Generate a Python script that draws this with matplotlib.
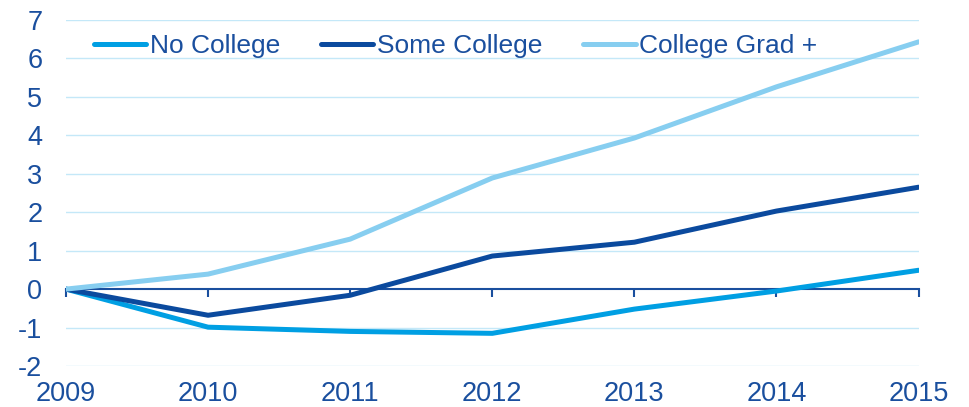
import matplotlib.pyplot as plt

# Cumulative change since 2009, by education level
years = [2009, 2010, 2011, 2012, 2013, 2014, 2015]
no_college = [0, -0.99, -1.10, -1.15, -0.52, -0.05, 0.49]
some_college = [0, -0.68, -0.16, 0.86, 1.22, 2.03, 2.65]
college_grad = [0, 0.39, 1.30, 2.89, 3.93, 5.26, 6.43]
y_ticks = [-2, -1, 0, 1, 2, 3, 4, 5, 6, 7]

TEXT_BLUE = '#1a4f9e'
GRID_BLUE = '#c4e8f8'

plt.rcParams['font.family'] = ['Liberation Sans', 'DejaVu Sans']
plt.rcParams['font.size'] = 19.5

fig = plt.figure(figsize=(9.7, 4.07), dpi=100)
ax = fig.add_axes([0.068, 0.1007, 0.879, 0.8503])

ax.plot(years, no_college, color='#009fe3', lw=3.6, label='No College', solid_capstyle='round')
ax.plot(years, some_college, color='#0b4a9e', lw=3.6, label='Some College', solid_capstyle='round')
ax.plot(years, college_grad, color='#87cef0', lw=3.6, label='College Grad +', solid_capstyle='round')

ax.set_xlim(years[0], years[-1])
ax.set_ylim(y_ticks[0], y_ticks[-1])
ax.set_yticks(y_ticks)
ax.set_yticklabels([str(v) for v in y_ticks])

# horizontal grid, the zero line is drawn as the axis itself
for v in y_ticks:
    if v != 0:
        ax.axhline(v, color=GRID_BLUE, lw=1.0, zorder=0)

for side in ['top', 'right', 'left']:
    ax.spines[side].set_visible(False)
ax.spines['bottom'].set_position(('data', 0))
ax.spines['bottom'].set_color(TEXT_BLUE)
ax.spines['bottom'].set_linewidth(1.5)
ax.spines['bottom'].set_zorder(1)

ax.set_xticks(years)
ax.tick_params(axis='x', direction='out', length=6, width=1.5, color=TEXT_BLUE,
               labelbottom=False)
ax.tick_params(axis='y', length=0, pad=17, labelcolor=TEXT_BLUE)

# year labels sit below the plot area
sec = ax.secondary_xaxis('bottom')
sec.set_xticks(years)
sec.set_xticklabels([str(y) for y in years])
sec.tick_params(length=0, pad=11, labelcolor=TEXT_BLUE)
sec.spines['bottom'].set_visible(False)

leg = ax.legend(loc='upper left', ncol=3, frameon=False, fontsize=19,
                handlelength=2.0, handletextpad=0.12, columnspacing=1.55,
                bbox_to_anchor=(0.02, 0.99), borderaxespad=0)
for t in leg.get_texts():
    t.set_color(TEXT_BLUE)

fig.savefig('out.png', dpi=100)
